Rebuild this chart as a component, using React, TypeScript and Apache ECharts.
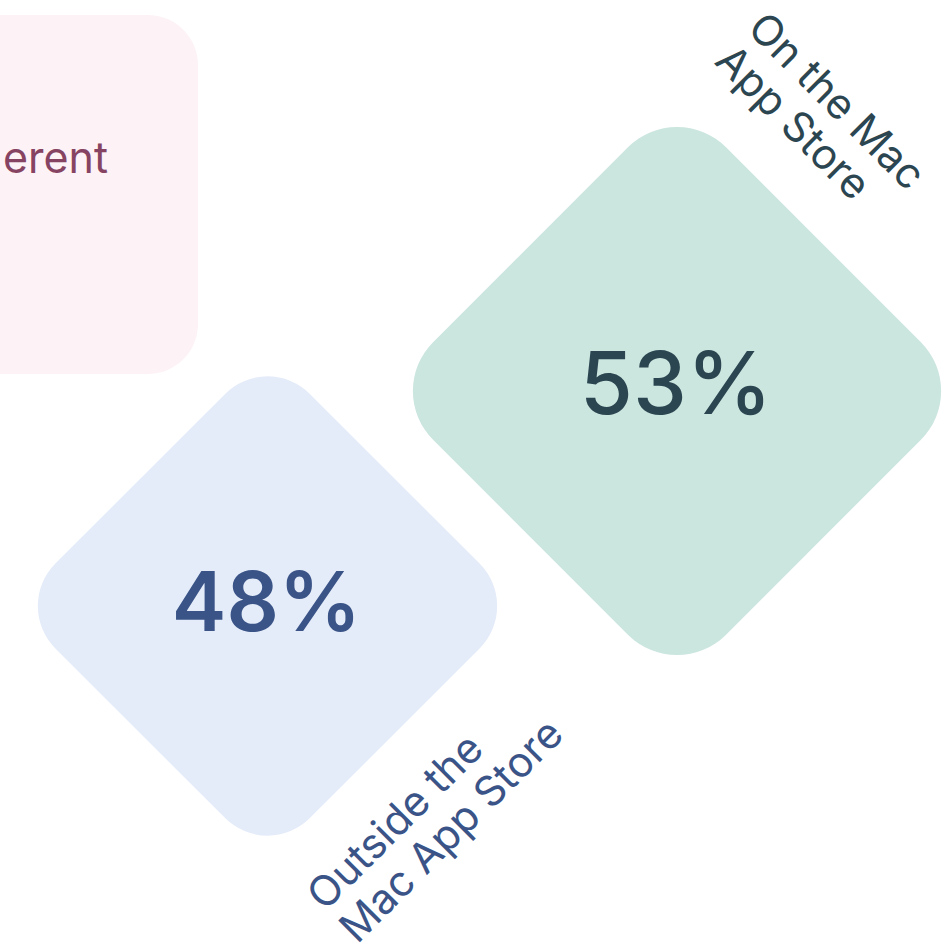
import React, { useEffect, useRef } from "react";
import * as echarts from "echarts";

// ---- data ----
const categories = ["Outside the Mac App Store", "On the Mac App Store"];
const shares = [48, 53];
const categoryLabels = ["Outside the\nMac App Store", "On the Mac\nApp Store"];
const panelText = "erent";

// ---- styles ----
const FONT = "Inter, Lato, 'Noto Sans', sans-serif";
const fills = ["#e5ecf9", "#cbe5df"];
const textColors = ["#3a5488", "#2c4651"];
const diamondSide = [360, 414];
const valueFont = [
  { size: 82, weight: 600 },
  { size: 86, weight: 500 },
];
const valueOffset = [[-1, -5], [-1, -8]];
// label anchor offsets relative to diamond centre, and rotation
const labelOffset = [[30, 279], [96, -388]];
const labelRotation = [Math.PI / 4, -Math.PI / 4];
const labelFontSize = 42;
const labelLineHeight = 46;

export default function App() {
  const ref = useRef<HTMLDivElement>(null);
  useEffect(() => {
    if (!ref.current) return;
    const chart = echarts.init(ref.current, null, { renderer: "svg" });
    chart.setOption({
      animation: false,
      backgroundColor: "#ffffff",
      grid: { left: 62.75, right: 70.25, top: 90, bottom: 1 },
      xAxis: { type: "category", data: categories, show: false, boundaryGap: true },
      yAxis: { type: "value", min: 40, max: 60, show: false },
      graphic: [
        {
          type: "rect",
          z: 0,
          shape: { x: -120, y: 15, width: 318, height: 359, r: 50 },
          style: { fill: "#fdf3f7" },
        },
        {
          type: "text",
          z: 1,
          x: 108,
          y: 157,
          style: {
            text: panelText,
            fill: "#874462",
            fontSize: 43,
            fontFamily: FONT,
            align: "right",
            verticalAlign: "middle",
          },
        },
      ],
      series: [
        {
          type: "custom",
          clip: false,
          z: 5,
          data: shares.map((v, i) => [i, v]),
          renderItem: (params: any, api: any) => {
            const i = params.dataIndex;
            const val = api.value(1);
            const pt = api.coord([api.value(0), val]);
            const s = diamondSide[i];
            return {
              type: "group",
              children: [
                {
                  type: "rect",
                  x: pt[0],
                  y: pt[1],
                  rotation: Math.PI / 4,
                  shape: { x: -s / 2, y: -s / 2, width: s, height: s, r: s / 6 },
                  style: { fill: fills[i] },
                },
                {
                  type: "text",
                  x: pt[0] + valueOffset[i][0],
                  y: pt[1] + valueOffset[i][1],
                  style: {
                    text: `${val}%`,
                    fill: textColors[i],
                    fontSize: valueFont[i].size,
                    fontWeight: valueFont[i].weight,
                    fontFamily: FONT,
                    align: "center",
                    verticalAlign: "middle",
                  },
                },
                {
                  type: "text",
                  x: pt[0] + labelOffset[i][0],
                  y: pt[1] + labelOffset[i][1],
                  rotation: labelRotation[i],
                  style: {
                    text: categoryLabels[i],
                    fill: textColors[i],
                    fontSize: labelFontSize,
                    lineHeight: labelLineHeight,
                    fontFamily: FONT,
                    align: "left",
                    verticalAlign: "top",
                  },
                },
              ],
            };
          },
        },
      ],
    });
    return () => chart.dispose();
  }, []);
  return (
    <div
      ref={ref}
      style={{ position: "fixed", left: 0, top: 0, width: 952, height: 951 }}
    />
  );
}
